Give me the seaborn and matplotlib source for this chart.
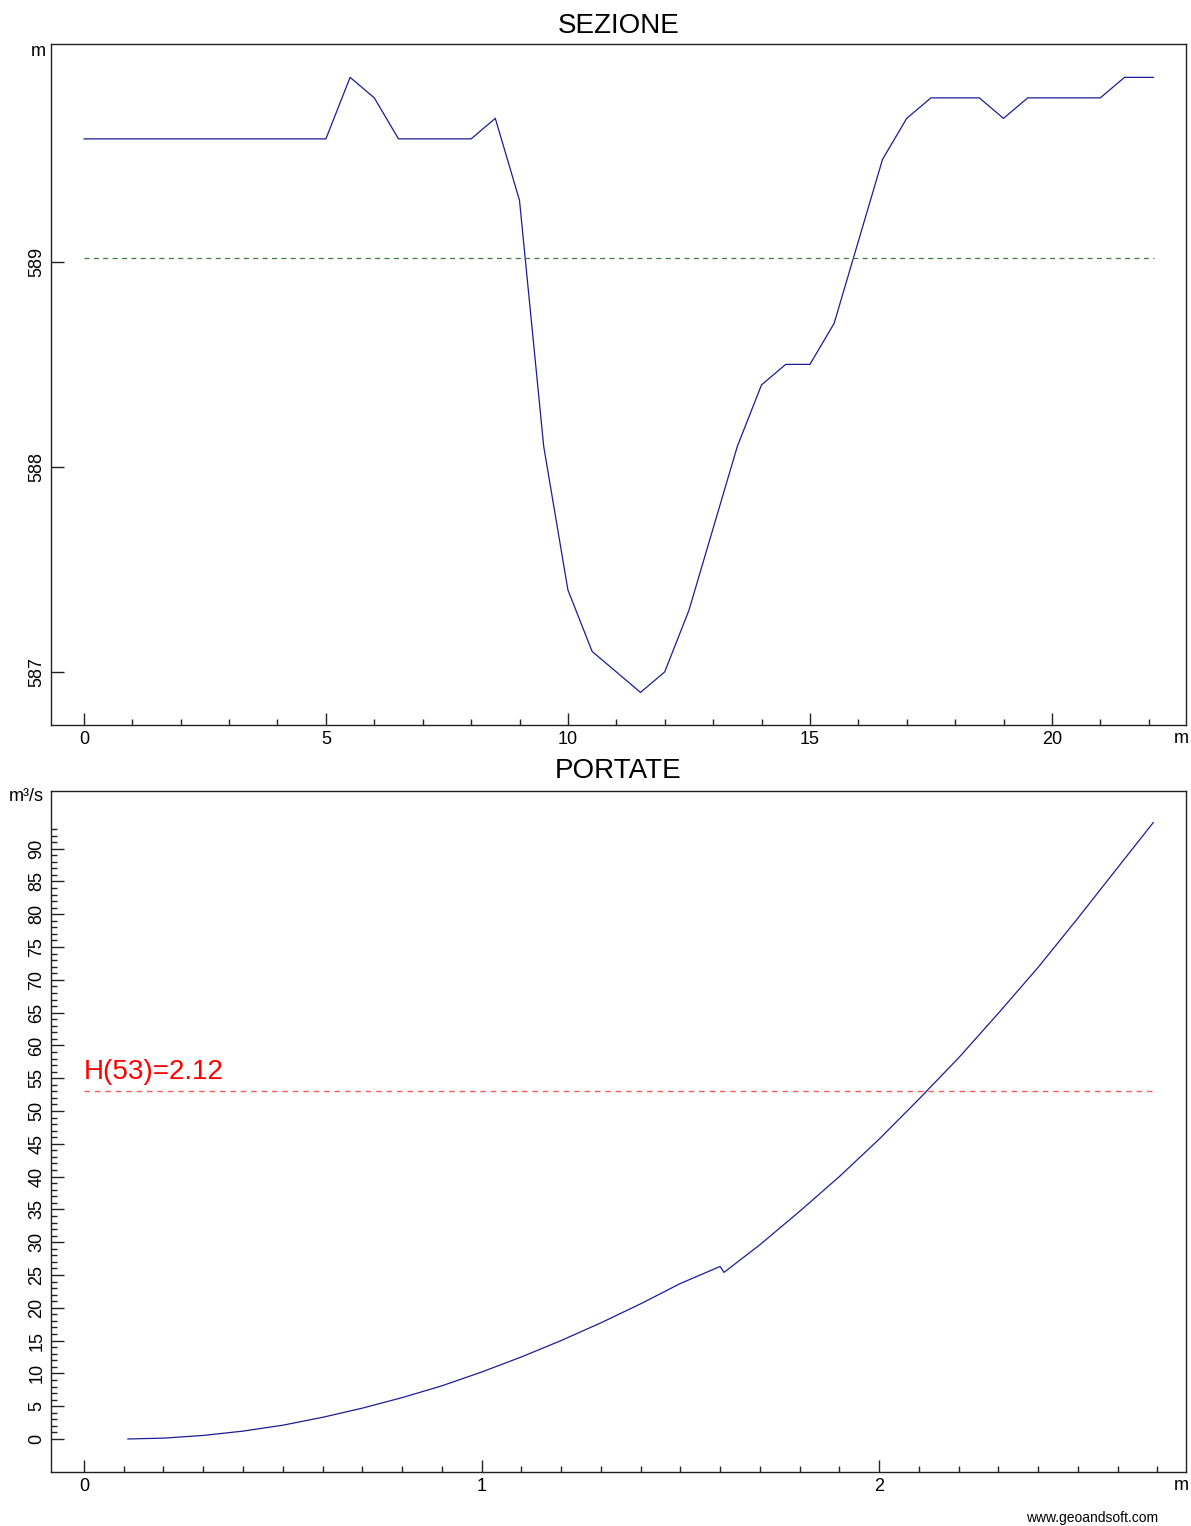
import matplotlib

matplotlib.use("Agg")
import matplotlib.pyplot as plt
import seaborn as sns
from matplotlib.ticker import FixedLocator

sns.set_theme(style="white", rc={"text.color": "black", "axes.labelcolor": "black",
                                 "xtick.color": "black", "ytick.color": "black"})
plt.rcParams["font.family"] = ["Liberation Sans", "DejaVu Sans"]
plt.rcParams["axes.linewidth"] = 1.0
plt.rcParams["axes.edgecolor"] = "#222222"

# --- SEZIONE: progressiva (m) / quota (m s.l.m.)
sez_x = [0, 5, 5.5, 6, 6.5, 7, 8, 8.5, 9, 9.5, 10, 10.5, 11, 11.5, 12, 12.5,
         13, 13.5, 14, 14.5, 15, 15.5, 16, 16.5, 17, 17.5, 18, 18.5, 19, 19.5,
         20, 20.5, 21, 21.5, 22.1]
sez_z = [589.6, 589.6, 589.9, 589.8, 589.6, 589.6, 589.6, 589.7, 589.3, 588.1,
         587.4, 587.1, 587.0, 586.9, 587.0, 587.3, 587.7, 588.1, 588.4, 588.5,
         588.5, 588.7, 589.1, 589.5, 589.7, 589.8, 589.8, 589.8, 589.7, 589.8,
         589.8, 589.8, 589.8, 589.9, 589.9]
water_level = 589.02

# --- PORTATE: tirante h (m) / portata Q (m3/s)
por_h = [0.11, 0.2, 0.3, 0.4, 0.5, 0.6, 0.7, 0.8, 0.9, 1.0, 1.1, 1.2, 1.3, 1.4,
         1.5, 1.6, 1.61, 1.7, 1.8, 1.9, 2.0, 2.1, 2.2, 2.3, 2.4, 2.5, 2.6, 2.69]
por_q = [0.0, 0.13, 0.54, 1.2, 2.1, 3.3, 4.7, 6.3, 8.1, 10.2, 12.5, 15.0, 17.7,
         20.6, 23.7, 26.3, 25.4, 29.6, 34.7, 40.0, 45.7, 51.8, 58.1, 64.9, 71.9,
         79.4, 87.1, 94.0]
q_design = 53
h_design = 2.12

LINE = "#1c1c96"

fig = plt.figure(figsize=(11.91, 15.26), dpi=100)
ax1 = fig.add_axes([0.0428, 0.5249, 0.9530, 0.4463])
ax2 = fig.add_axes([0.0428, 0.0354, 0.9530, 0.4463])

# top: cross section
sns.lineplot(x=sez_x, y=sez_z, ax=ax1, color=LINE, lw=0.9, sort=False)
ax1.plot([sez_x[0], sez_x[-1]], [water_level, water_level], color="#3d7a3d",
         lw=0.9, dashes=(4, 3.5))
ax1.set_xlim(-0.68, 22.77)
ax1.set_ylim(586.741, 590.063)
ax1.xaxis.set_major_locator(FixedLocator([0, 5, 10, 15, 20]))
ax1.xaxis.set_minor_locator(FixedLocator(list(range(0, 23))))
ax1.yaxis.set_major_locator(FixedLocator([587, 588, 589]))
ax1.set_yticklabels(["587", "588", "589"])
ax1.set_title("SEZIONE", fontsize=20, pad=8)

# bottom: rating curve
sns.lineplot(x=por_h, y=por_q, ax=ax2, color=LINE, lw=0.9, sort=False)
ax2.plot([0, por_h[-1]], [q_design, q_design], color="#ff5a5a", lw=1.0,
         dashes=(4, 3.5))
ax2.text(0, 54.9, f"H({q_design})={h_design:.2f}", color="#ff0000",
         fontsize=20, ha="left", va="baseline")
ax2.set_xlim(-0.083, 2.772)
ax2.set_ylim(-5.03, 98.8)
ax2.xaxis.set_major_locator(FixedLocator([0, 1, 2]))
ax2.xaxis.set_minor_locator(FixedLocator([i / 10 for i in range(0, 28)]))
ax2.yaxis.set_major_locator(FixedLocator(list(range(0, 91, 5))))
ax2.yaxis.set_minor_locator(FixedLocator(list(range(0, 94))))
ax2.set_title("PORTATE", fontsize=20, pad=9)

for ax in (ax1, ax2):
    ax.set_xlabel("")
    ax.set_ylabel("")
    for s in ax.spines.values():
        s.set_visible(True)
        s.set_color("#222222")
    ax.tick_params(which="major", direction="in", length=9, width=1,
                   color="#222222", labelsize=13, pad=4,
                   bottom=True, left=True, top=False, right=False)
    ax.tick_params(which="minor", direction="in", length=4.5, width=1,
                   color="#222222", bottom=True, left=True, top=False, right=False)
    ax.tick_params(axis="y", labelrotation=90)
    for lab in ax.get_yticklabels():
        lab.set_va("center")

fig.text(38 / 1191, 1 - 52 / 1526, "m", fontsize=13, ha="center", va="center")
fig.text(1174 / 1191, 1 - 739 / 1526, "m", fontsize=13, ha="left", va="center")
fig.text(26 / 1191, 1 - 797 / 1526, "m³/s", fontsize=13, ha="center", va="center")
fig.text(1174 / 1191, 1 - 1485 / 1526, "m", fontsize=13, ha="left", va="center")
fig.text(1092 / 1191, 1 - 1518 / 1526, "www.geoandsoft.com", fontsize=10,
         ha="center", va="center")

fig.savefig("out.png", dpi=100)
